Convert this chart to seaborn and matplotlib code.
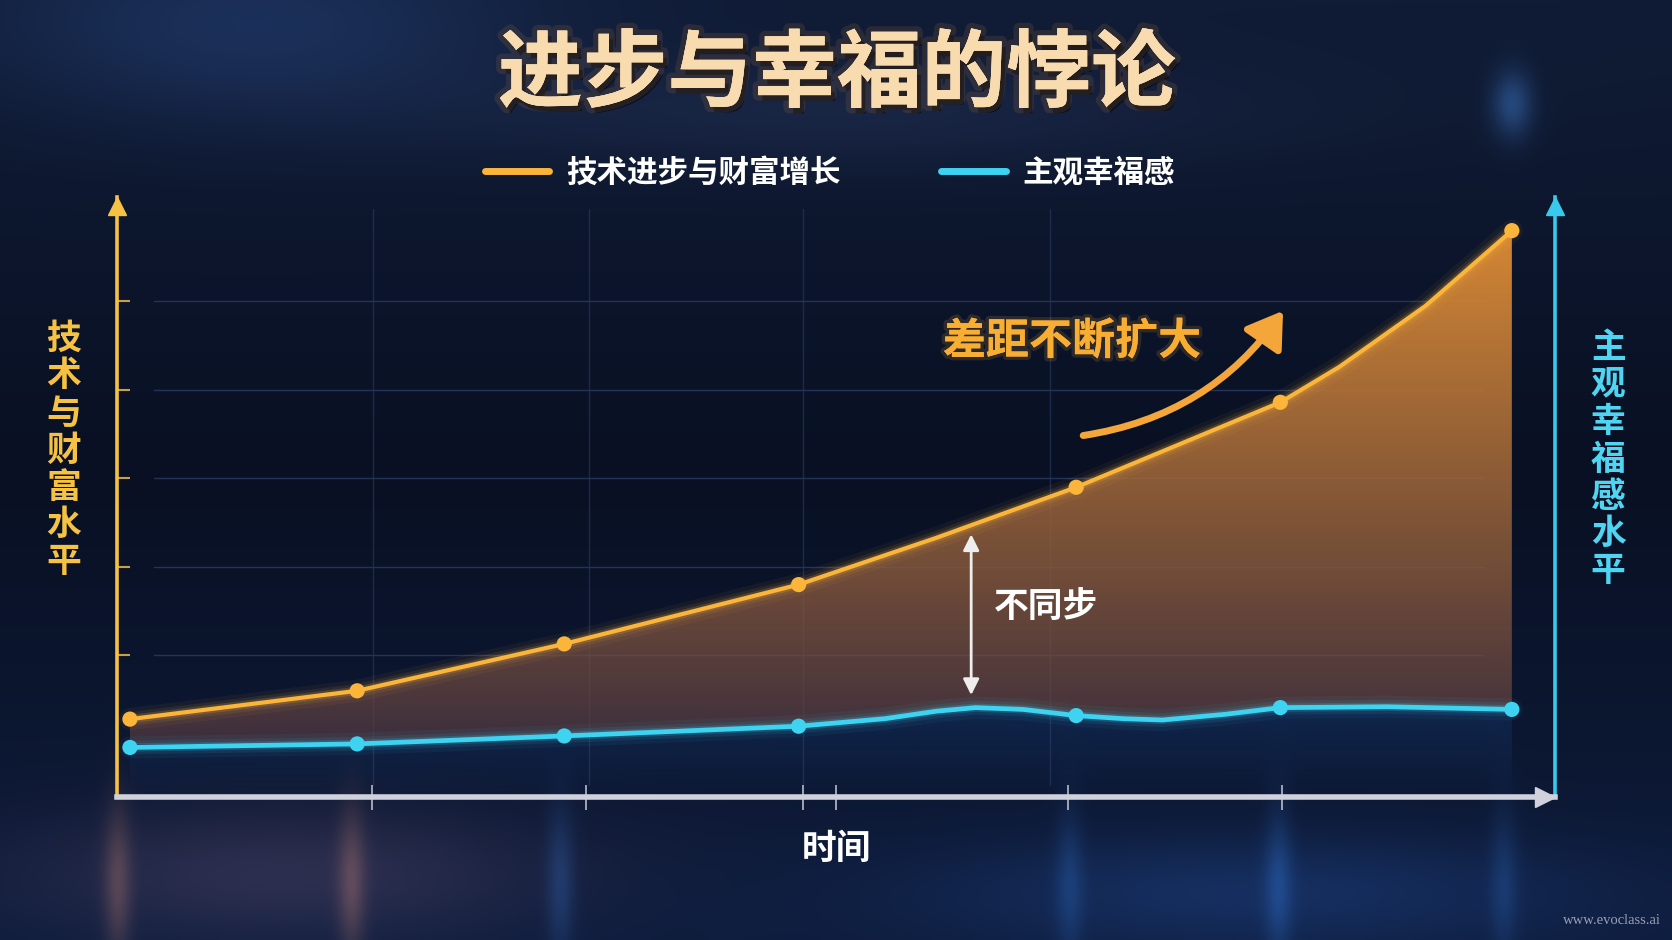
import numpy as np
import pandas as pd
import matplotlib
matplotlib.use("Agg")
import matplotlib.pyplot as plt
import seaborn as sns
from matplotlib import patheffects as pe
from matplotlib.patches import Polygon, FancyArrowPatch
from matplotlib.lines import Line2D

# --- data ---
time_pts = [0.09, 1.67, 3.11, 4.74, 6.67, 8.09, 9.70]
wealth = [0.88, 1.20, 1.73, 2.40, 3.50, 4.46, 6.40]
happiness = [0.56, 0.60, 0.69, 0.80, 0.92, 1.01, 0.99]
# extra readings along both curves (between the markers)
wealth_curve_t = [0.09, 1.67, 3.11, 4.74, 5.70, 6.67, 8.09, 8.50, 9.10, 9.70]
wealth_curve_v = [0.88, 1.20, 1.73, 2.40, 2.93, 3.50, 4.46, 4.86, 5.55, 6.40]
happy_curve_t = [0.09, 1.67, 3.11, 4.74, 5.34, 5.70, 5.97, 6.30, 6.67, 7.0, 7.27, 7.71, 8.09, 8.83, 9.70]
happy_curve_v = [0.56, 0.60, 0.69, 0.80, 0.885, 0.97, 1.01, 0.99, 0.92, 0.885, 0.87, 0.935, 1.01, 1.02, 0.99]
x_ticks = [1.77, 3.26, 4.77, 5.0, 6.61, 8.10]
grid_x = [1.78, 3.28, 4.77, 6.49]
grid_y = [1.6, 2.6, 3.6, 4.6, 5.6]

title = "进步与幸福的悖论"
label_wealth = "技术进步与财富增长"
label_happy = "主观幸福感"
ylabel_left = "技术与财富水平"
ylabel_right = "主观幸福感水平"
xlabel = "时间"
note_gap = "差距不断扩大"
note_sync = "不同步"

ORANGE = "#fbb53a"
CYAN = "#3fd3f2"
W, H = 1672, 940

sns.set_theme(style="dark")
plt.rcParams["font.family"] = ["Noto Sans CJK SC", "DejaVu Sans"]

fig = plt.figure(figsize=(W / 100, H / 100), dpi=100)
fig.patch.set_facecolor("#0b1428")

# background gradient with soft glows
bh, bw = 470, 836
yy = np.linspace(0, 1, bh)[:, None]
xx = np.linspace(0, 1, bw)[None, :]
top = np.array([16, 28, 54]) / 255
mid = np.array([9, 16, 35]) / 255
bot = np.array([14, 28, 60]) / 255
f = np.clip(yy / 0.5, 0, 1)
g = np.clip((yy - 0.5) / 0.5, 0, 1)
img = (top * (1 - f)[..., None] + mid * f[..., None]) * (yy < 0.5)[..., None] \
    + (mid * (1 - g)[..., None] + bot * g[..., None]) * (yy >= 0.5)[..., None]
img = np.broadcast_to(img, (bh, bw, 3)).copy()


def glow(cx, cy, rx, ry, col, amp):
    m = amp * np.exp(-((xx - cx) / rx) ** 2 - ((yy - cy) / ry) ** 2)
    return m[..., None] * (np.array(col) / 255)


img += glow(0.15, 0.03, 0.16, 0.10, [25, 45, 80], 0.45)
img += glow(0.905, 0.11, 0.012, 0.035, [50, 100, 160], 0.45)
img += glow(0.5, 0.12, 0.25, 0.06, [25, 30, 45], 0.4)
img += glow(0.17, 0.93, 0.16, 0.07, [70, 45, 50], 0.45)
img += glow(0.75, 0.95, 0.2, 0.06, [20, 50, 95], 0.4)
for cx, col, amp in [(0.07, [180, 100, 50], 0.3), (0.21, [180, 100, 50], 0.3),
                     (0.335, [40, 100, 170], 0.25), (0.64, [40, 100, 170], 0.22),
                     (0.765, [40, 100, 170], 0.28), (0.9, [40, 100, 170], 0.2)]:
    img += glow(cx, 0.94, 0.008, 0.08, col, amp)
img = np.clip(img, 0, 1)

bg = fig.add_axes([0, 0, 1, 1], zorder=-10)
bg.imshow(img, aspect="auto", extent=(0, 1, 0, 1), interpolation="bicubic")
bg.axis("off")

ax = fig.add_axes([117 / W, 1 - 797 / H, 1438 / W, 600 / H])
ax.set_facecolor("none")
ax.set_xlim(0, 10)
ax.set_ylim(0, 6.78)

# grid
for gy in grid_y:
    ax.axhline(gy, xmin=0.026, xmax=0.95, color="#2a3d63", lw=1, alpha=0.8, zorder=0)
for gx in grid_x:
    ax.axvline(gx, ymin=0.02, ymax=0.98, color="#24365a", lw=1, alpha=0.7, zorder=0)

# gradient fill between the two series
fill_poly = Polygon(np.column_stack([wealth_curve_t + happy_curve_t[::-1],
                                     wealth_curve_v + happy_curve_v[::-1]]),
                    closed=True, facecolor="none", edgecolor="none",
                    transform=ax.transData)
ax.add_patch(fill_poly)
n = 256
v = np.linspace(1, 0, n)[:, None]
c_top = np.array([222, 140, 52]) / 255
c_bot = np.array([78, 55, 68]) / 255
rgba = np.zeros((n, 1, 4))
rgba[..., :3] = c_bot + (c_top - c_bot) * (v[..., None] ** 0.75)
rgba[..., 3] = 0.7 + 0.28 * v
grad = ax.imshow(rgba, extent=(0, 10, 0.6, 6.5), aspect="auto", zorder=1,
                 interpolation="bicubic")
grad.set_clip_path(fill_poly)

# soft blue glow under the happiness curve
under_poly = Polygon(np.column_stack([happy_curve_t + [happy_curve_t[-1], happy_curve_t[0]],
                                      happy_curve_v + [0, 0]]),
                     closed=True, facecolor="none", edgecolor="none",
                     transform=ax.transData)
ax.add_patch(under_poly)
rgba2 = np.zeros((n, 1, 4))
rgba2[..., :3] = np.array([30, 80, 150]) / 255
rgba2[..., 3] = 0.3 * v
g2 = ax.imshow(rgba2, extent=(0, 10, 0, 1.05), aspect="auto", zorder=1)
g2.set_clip_path(under_poly)

# lines with glow
df_w = pd.DataFrame({"t": wealth_curve_t, "v": wealth_curve_v})
df_h = pd.DataFrame({"t": happy_curve_t, "v": happy_curve_v})
for lw, a in [(16, 0.05), (10, 0.09), (6, 0.18)]:
    sns.lineplot(data=df_w, x="t", y="v", ax=ax, color=ORANGE, lw=lw, alpha=a,
                 legend=False, zorder=3)
    sns.lineplot(data=df_h, x="t", y="v", ax=ax, color=CYAN, lw=lw, alpha=a,
                 legend=False, zorder=3)
sns.lineplot(data=df_w, x="t", y="v", ax=ax, color=ORANGE, lw=3.0, legend=False,
             zorder=4, solid_capstyle="round", solid_joinstyle="round")
sns.lineplot(data=df_h, x="t", y="v", ax=ax, color=CYAN, lw=3.4, legend=False,
             zorder=4, solid_capstyle="round", solid_joinstyle="round")
sns.scatterplot(x=time_pts, y=wealth, ax=ax, color=ORANGE, s=120, edgecolor="none",
                zorder=5, legend=False)
sns.scatterplot(x=time_pts, y=happiness, ax=ax, color=CYAN, s=120, edgecolor="none",
                zorder=5, legend=False)

# axes: spines with arrow heads
ax.spines["top"].set_visible(False)
ax.spines["left"].set_color("#f6c244")
ax.spines["left"].set_linewidth(2.6)
ax.spines["right"].set_color("#38c9ec")
ax.spines["right"].set_linewidth(2.6)
ax.spines["bottom"].set_color("#cfd2dc")
ax.spines["bottom"].set_linewidth(4)
ax.plot(0, 0.985, "^", color="#f6c244", ms=13, transform=ax.transAxes, clip_on=False)
ax.plot(1, 0.985, "^", color="#38c9ec", ms=13, transform=ax.transAxes, clip_on=False)
ax.plot(0.993, 0, ">", color="#cfd2dc", ms=14, transform=ax.transAxes, clip_on=False)

ax.set_xticks(x_ticks)
ax.set_xticklabels([])
ax.set_yticks(grid_y)
ax.set_yticklabels([])
ax.tick_params(axis="x", direction="inout", length=18, width=1.2, color="#b9bdc8",
               bottom=True)
ax.tick_params(axis="y", direction="in", length=9, width=1.5, color="#c9a04a",
               left=True, right=False)

ax.set_xlabel(xlabel, color="white", fontsize=25, fontweight="bold", labelpad=12)
ax.set_ylabel("\n".join(ylabel_left), rotation=0, color="#f6c244", fontsize=25,
              fontweight="bold", linespacing=1.08, va="center", ha="center")
ax.yaxis.set_label_coords(-0.037, 0.578)
ax.text(1.037, 0.563, "\n".join(ylabel_right), transform=ax.transAxes,
        color="#4fd5f2", fontsize=25, fontweight="bold", linespacing=1.08,
        ha="center", va="center")

# annotations
ax.annotate("", xy=(5.94, 1.12), xytext=(5.94, 3.0),
            arrowprops=dict(arrowstyle="<|-|>", color="#eeeeee", lw=2,
                            mutation_scale=24), zorder=6)
ax.text(6.1, 2.14, note_sync, color="white", fontsize=25, fontweight="bold",
        ha="left", va="center", zorder=6)
ax.text(6.64, 5.15, note_gap, color="#f8ad33", fontsize=31, fontweight="bold",
        ha="center", va="center", zorder=6,
        path_effects=[pe.withStroke(linewidth=5, foreground="#f8ad33", alpha=0.15),
                      pe.Normal()])
arrow = FancyArrowPatch((6.7, 4.08), (8.12, 5.52), connectionstyle="arc3,rad=0.22",
                        arrowstyle="-|>,head_length=0.7,head_width=0.45",
                        mutation_scale=30, color="#f4a63a", lw=5, zorder=6)
ax.add_patch(arrow)

# title and legend
fig.text(837 / W, 1 - 75 / H, title, color="#f8dcb0", fontsize=61, fontweight="heavy",
         ha="center", va="center",
         path_effects=[pe.withSimplePatchShadow(offset=(3, -4), shadow_rgbFace="#000000",
                                                alpha=0.5),
                       pe.withStroke(linewidth=8, foreground="#e89038", alpha=0.12),
                       pe.Normal()])

handles = [Line2D([0], [0], color=ORANGE, lw=5, solid_capstyle="round"),
           Line2D([0], [0], color=CYAN, lw=5, solid_capstyle="round")]
leg = fig.legend(handles, [label_wealth, label_happy], loc="center",
                 bbox_to_anchor=(830 / W, 1 - 173 / H), ncol=2, frameon=False,
                 prop={"family": ["Noto Sans CJK SC", "DejaVu Sans"], "weight": "bold",
                       "size": 22},
                 handlelength=2.1, handletextpad=0.55, columnspacing=3.3)
for t in leg.get_texts():
    t.set_color("white")

fig.text(1612 / W, 1 - 921 / H, "www.evoclass.ai", color="#98a0b2", fontsize=10.5,
         family="Liberation Serif", ha="center", va="center")

fig.savefig("out.png", dpi=100, facecolor=fig.get_facecolor())
